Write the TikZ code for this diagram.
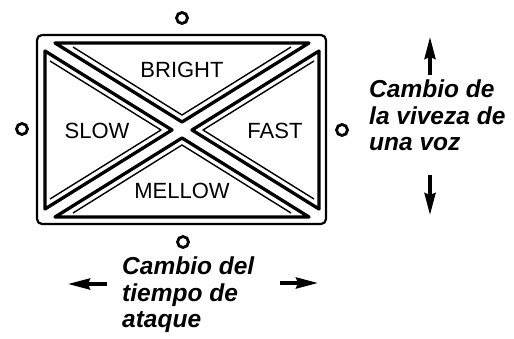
\documentclass[tikz,border=0pt]{standalone}
\usepackage{fontspec}
\setmainfont{Liberation Sans}
\usetikzlibrary{arrows.meta}
\tikzset{
  knob/.style={circle,draw,line width=2.8pt,minimum size=11pt,inner sep=0pt},
  padlabel/.style={font=\fontsize{22}{24}\selectfont,inner sep=0pt},
  remark/.style={font=\fontsize{24.5}{26.5}\selectfont\bfseries\itshape,
    align=left,inner sep=0pt},
  thickedge/.style={line width=3.3pt,line join=round},
  thinedge/.style={line width=1.4pt,line join=round},
  bigarrow/.style={line width=3.4pt,-{Stealth[length=22pt,width=11pt,inset=2pt]}}
}
\begin{document}
\begin{tikzpicture}[x=1pt,y=-1pt]
\useasboundingbox (0,0) rectangle (514,339);
\draw[line width=2.2pt,rounded corners=5pt] (37,35) rectangle (326,224);
\draw[thickedge] (55,43) -- (309,43) -- (182,122) -- cycle;
\draw[thinedge] (73,47) -- (182,115) -- (291,47);
\draw[thickedge] (55,217) -- (309,217) -- (182,138) -- cycle;
\draw[thinedge] (73,213) -- (182,145) -- (291,213);
\draw[thickedge] (45,51) -- (45,209) -- (172,130) -- cycle;
\draw[thinedge] (50,61) -- (161,130) -- (50,199);
\draw[thickedge] (319,51) -- (319,209) -- (192,130) -- cycle;
\draw[thinedge] (314,61) -- (203,130) -- (314,199);
\node[padlabel] (bright) at (182,70) {BRIGHT};
\node[padlabel] (slow) at (97,131) {SLOW};
\node[padlabel] (fast) at (275,131) {FAST};
\node[padlabel] (mellow) at (182,191) {MELLOW};
\node[knob] (knobtop) at (182,18) {};
\node[knob] (knobleft) at (22,129) {};
\node[knob] (knobright) at (342,130) {};
\node[knob] (knobbottom) at (183,242) {};
\node[remark,anchor=north west] (viveza) at (369,80)
  {Cambio de\\la viveza de\\una voz};
\node[remark,anchor=north west] (ataque) at (122,257)
  {Cambio del\\tiempo de\\ataque};
\coordinate (upfrom) at (430,75);
\coordinate (upto) at (430,37);
\coordinate (downfrom) at (430,175);
\coordinate (downto) at (430,215);
\coordinate (leftfrom) at (107,284);
\coordinate (leftto) at (68,284);
\coordinate (rightfrom) at (280,283);
\coordinate (rightto) at (318,283);
\draw[bigarrow] (upfrom) -- (upto);
\draw[bigarrow] (downfrom) -- (downto);
\draw[bigarrow] (leftfrom) -- (leftto);
\draw[bigarrow] (rightfrom) -- (rightto);
\end{tikzpicture}
\end{document}
